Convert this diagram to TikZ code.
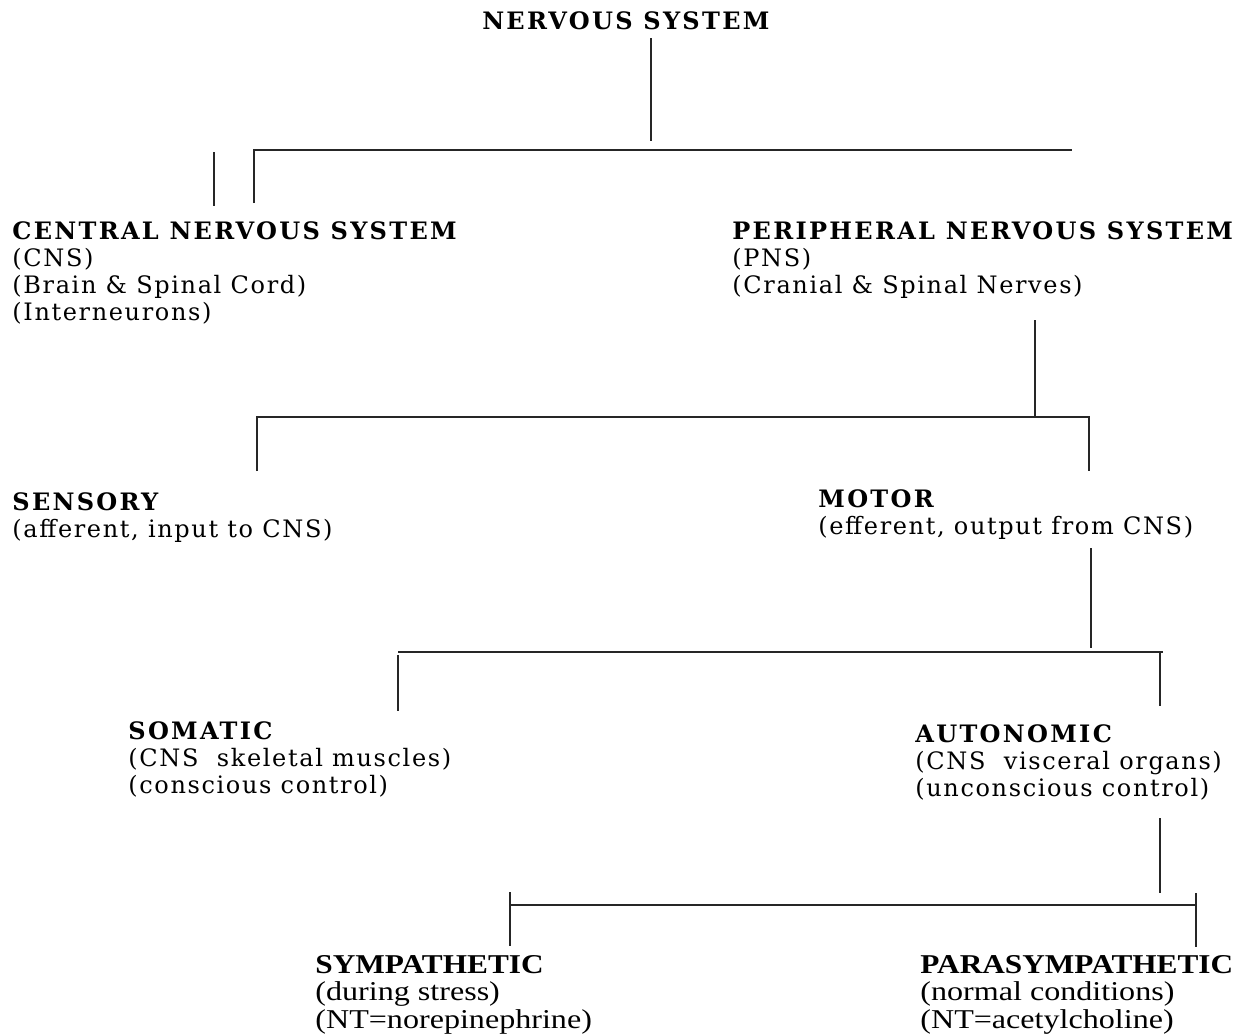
\documentclass[tikz,border=0pt]{standalone}
\usepackage{fontspec}
\setmainfont{DejaVu Serif}
\newfontfamily\spacedfont[LetterSpace=6.8, BoldFeatures={LetterSpace=9.6}]{DejaVu Serif}
\newfontfamily\plainfont[FakeStretch=1.18, BoldFeatures={FakeStretch=1.15}]{Liberation Serif}
\lineskiplimit=-20pt\relax
\tikzset{
  lbl/.style={anchor=north west, inner sep=0pt, align=left,
    font=\spacedfont\fontsize{12}{13.6}\selectfont},
  lblb/.style={anchor=north west, inner sep=0pt, align=left,
    font=\plainfont\fontsize{13.6}{13.75}\selectfont},
  conn/.style={draw=black!85, line width=0.6pt}
}
\begin{document}
\begin{tikzpicture}[x=0.5pt,y=-0.5pt]
\useasboundingbox (0,0) rectangle (1241,1034);
\node[lbl, anchor=north] (ns) at (627,11) {\textbf{NERVOUS SYSTEM}};
\node[lbl] (cns) at (12,221) {\textbf{CENTRAL NERVOUS SYSTEM}\\(CNS)\\(Brain \& Spinal Cord)\\(Interneurons)};
\node[lbl] (pns) at (732,221) {\textbf{PERIPHERAL NERVOUS SYSTEM}\\(PNS)\\(Cranial \& Spinal Nerves)};
\node[lbl] (sen) at (12,492) {\textbf{SENSORY}\\(afferent, input to CNS)};
\node[lbl] (mot) at (818,489) {\textbf{MOTOR}\\(efferent, output from CNS)};
\node[lbl] (som) at (128,721) {\textbf{SOMATIC}\\(CNS\ \ skeletal muscles)\\(conscious control)};
\node[lbl] (aut) at (915,724) {\textbf{AUTONOMIC}\\(CNS\ \ visceral organs)\\(unconscious control)};
\node[lblb] (sym) at (315,955) {\textbf{SYMPATHETIC}\\(during stress)\\(NT=norepinephrine)};
\node[lblb] (par) at (920,955) {\textbf{PARASYMPATHETIC}\\(normal conditions)\\(NT=acetylcholine)};
% level 1
\coordinate (ns-s) at (651,38);
\coordinate (ns-e) at (651,141);
\coordinate (b1-l) at (254,150);
\coordinate (b1-r) at (1072,150);
\coordinate (cns-t) at (254,203);
\coordinate (x-t) at (214,152);
\coordinate (x-b) at (214,206);
\draw[conn] (ns-s) -- (ns-e);
\draw[conn] (cns-t) -- (b1-l) -- (b1-r);
\draw[conn] (x-t) -- (x-b);
% level 2
\coordinate (pns-s) at (1035,320);
\coordinate (b2-m) at (1035,417);
\coordinate (b2-l) at (257,417);
\coordinate (b2-r) at (1089,417);
\coordinate (sen-t) at (257,471);
\coordinate (mot-t) at (1089,471);
\draw[conn] (pns-s) -- (b2-m);
\draw[conn] (sen-t) -- (b2-l) -- (b2-r) -- (mot-t);
% level 3
\coordinate (mot-s) at (1091,548);
\coordinate (mot-e) at (1091,648);
\coordinate (b3-l) at (398,652);
\coordinate (b3-r) at (1163,652);
\coordinate (som-a) at (398,655);
\coordinate (som-t) at (398,711);
\coordinate (aut-a) at (1160,652);
\coordinate (aut-t) at (1160,706);
\draw[conn] (mot-s) -- (mot-e);
\draw[conn] (b3-l) -- (b3-r);
\draw[conn] (som-a) -- (som-t);
\draw[conn] (aut-a) -- (aut-t);
% level 4
\coordinate (aut-s) at (1160,818);
\coordinate (aut-e) at (1160,893);
\coordinate (b4-l) at (510,905);
\coordinate (b4-r) at (1196,905);
\coordinate (sym-a) at (510,892);
\coordinate (sym-t) at (510,946);
\coordinate (par-a) at (1196,893);
\coordinate (par-t) at (1196,947);
\draw[conn] (aut-s) -- (aut-e);
\draw[conn] (b4-l) -- (b4-r);
\draw[conn] (sym-a) -- (sym-t);
\draw[conn] (par-a) -- (par-t);
\end{tikzpicture}
\end{document}
